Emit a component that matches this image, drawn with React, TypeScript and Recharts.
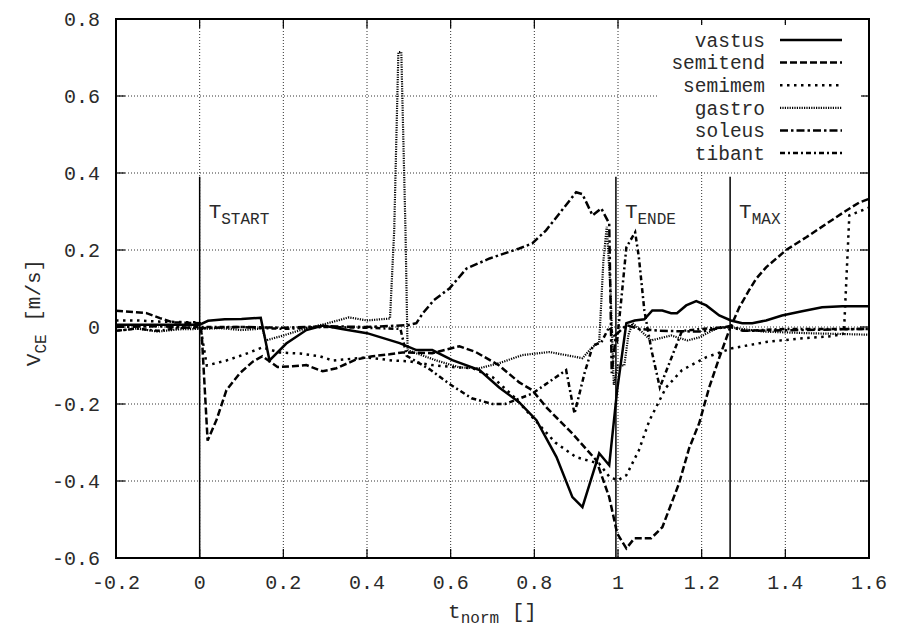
import React from "react";
import {
  CartesianGrid,
  Legend,
  Line,
  LineChart,
  ReferenceArea,
  ReferenceDot,
  ReferenceLine,
  XAxis,
  YAxis
} from "recharts";

const xTicks = [-0.2, 0, 0.2, 0.4, 0.6, 0.8, 1, 1.2, 1.4, 1.6];
const yTicks = [-0.6, -0.4, -0.2, 0, 0.2, 0.4, 0.6, 0.8];

// [t_norm, v_CE]
const vastus: [number, number][] = [
  [-0.2, 0.006], [0, 0.006], [0.02, 0.016], [0.06, 0.02], [0.1, 0.021], [0.146, 0.024],
  [0.167, -0.087], [0.207, -0.043], [0.255, -0.008], [0.295, 0.004], [0.34, -0.005],
  [0.4, -0.016], [0.478, -0.042], [0.518, -0.06], [0.556, -0.06], [0.604, -0.086],
  [0.669, -0.112], [0.716, -0.157], [0.764, -0.196], [0.805, -0.242], [0.853, -0.338],
  [0.891, -0.442], [0.915, -0.468], [0.955, -0.328], [0.979, -0.359], [0.998, -0.164],
  [1.02, 0.01], [1.04, 0.017], [1.063, 0.02], [1.082, 0.043], [1.106, 0.043], [1.127, 0.036],
  [1.141, 0.036], [1.163, 0.056], [1.187, 0.067], [1.211, 0.056], [1.242, 0.03], [1.27, 0.017],
  [1.297, 0.01], [1.321, 0.01], [1.354, 0.017], [1.392, 0.03], [1.44, 0.041], [1.488, 0.051],
  [1.536, 0.054], [1.6, 0.054]
];

const semitend: [number, number][] = [
  [-0.2, 0.042], [-0.127, 0.036], [-0.095, 0.023], [-0.064, 0.012], [0, 0.01], [0.005, -0.02],
  [0.019, -0.295], [0.04, -0.242], [0.064, -0.164], [0.096, -0.12], [0.127, -0.09],
  [0.15, -0.076], [0.186, -0.104], [0.222, -0.102], [0.255, -0.099], [0.294, -0.115],
  [0.327, -0.107], [0.375, -0.084], [0.413, -0.076], [0.454, -0.071], [0.485, -0.066],
  [0.556, -0.068], [0.621, -0.05], [0.66, -0.065], [0.716, -0.1], [0.764, -0.144],
  [0.795, -0.164], [0.83, -0.21], [0.891, -0.277], [0.948, -0.346], [0.979, -0.442],
  [0.998, -0.536], [1.02, -0.575], [1.039, -0.549], [1.079, -0.549], [1.106, -0.52],
  [1.146, -0.406], [1.17, -0.315], [1.194, -0.25], [1.218, -0.157], [1.242, -0.08],
  [1.266, -0.008], [1.29, 0.051], [1.313, 0.095], [1.33, 0.125], [1.354, 0.155], [1.402, 0.2],
  [1.45, 0.233], [1.498, 0.268], [1.545, 0.302], [1.576, 0.323], [1.6, 0.333]
];

const semimem: [number, number][] = [
  [-0.2, 0.017], [-0.15, 0.017], [-0.1, 0.014], [0, 0.012], [0.017, -0.1], [0.064, -0.087],
  [0.11, -0.07], [0.15, -0.053], [0.19, -0.066], [0.24, -0.069], [0.287, -0.076],
  [0.318, -0.087], [0.399, -0.079], [0.461, -0.087], [0.5, -0.089], [0.556, -0.099],
  [0.604, -0.104], [0.652, -0.107], [0.7, -0.13], [0.75, -0.18], [0.8, -0.24], [0.85, -0.3],
  [0.9, -0.338], [0.955, -0.355], [0.98, -0.39], [1.0, -0.398], [1.02, -0.385], [1.05, -0.32],
  [1.075, -0.243], [1.115, -0.157], [1.153, -0.112], [1.21, -0.079], [1.273, -0.055],
  [1.354, -0.039], [1.433, -0.03], [1.512, -0.024], [1.54, -0.017], [1.553, 0.29], [1.6, 0.31]
];

const gastro: [number, number][] = [
  [-0.2, -0.01], [-0.15, -0.004], [-0.1, -0.012], [-0.05, -0.006], [0, -0.005], [0.05, -0.003],
  [0.1, -0.008], [0.15, -0.004], [0.158, -0.035], [0.2, -0.022], [0.25, -0.005], [0.3, 0.008],
  [0.357, 0.025], [0.4, 0.017], [0.455, 0.022], [0.465, 0.25], [0.475, 0.714], [0.482, 0.714],
  [0.492, 0.25], [0.497, -0.06], [0.566, -0.087], [0.621, -0.105], [0.669, -0.107],
  [0.716, -0.094], [0.771, -0.073], [0.836, -0.065], [0.915, -0.081], [0.939, -0.052],
  [0.955, -0.04], [0.965, 0.17], [0.973, 0.26], [0.982, 0.1], [0.99, -0.15], [1.0, -0.1],
  [1.015, -0.1], [1.025, -0.02], [1.035, 0.01], [1.079, -0.035], [1.127, -0.022],
  [1.166, -0.035], [1.194, -0.027], [1.242, 0.0], [1.273, -0.002], [1.35, -0.012],
  [1.45, -0.016], [1.6, -0.02]
];

const soleus: [number, number][] = [
  [-0.2, 0.0], [-0.1, 0.002], [0, -0.003], [0.1, 0.0], [0.2, -0.002], [0.3, 0.002], [0.4, 0.0],
  [0.5, 0.005], [0.518, 0.01], [0.533, 0.035], [0.56, 0.07], [0.597, 0.1], [0.638, 0.152],
  [0.693, 0.178], [0.764, 0.204], [0.795, 0.217], [0.828, 0.251], [0.86, 0.295], [0.9, 0.35],
  [0.915, 0.345], [0.939, 0.29], [0.96, 0.308], [0.979, 0.269], [0.985, -0.12], [0.995, -0.02],
  [1.02, 0.005], [1.05, -0.005], [1.1, -0.01], [1.2, -0.012], [1.27, 0.003], [1.3, -0.01],
  [1.6, -0.005]
];

const tibant: [number, number][] = [
  [-0.2, -0.01], [-0.15, -0.004], [-0.1, -0.01], [-0.05, -0.003], [0, 0.0], [0.1, 0.0],
  [0.2, -0.005], [0.3, 0.0], [0.4, -0.002], [0.48, -0.005], [0.495, -0.075], [0.55, -0.11],
  [0.6, -0.15], [0.65, -0.185], [0.7, -0.2], [0.73, -0.2], [0.795, -0.173], [0.876, -0.112],
  [0.896, -0.225], [0.92, -0.12], [0.94, -0.048], [0.96, -0.04], [0.979, 0.0], [0.998, -0.035],
  [1.01, 0.095], [1.02, 0.207], [1.041, 0.246], [1.05, 0.18], [1.063, 0.043], [1.08, -0.06],
  [1.1, -0.157], [1.153, -0.01], [1.2, -0.005], [1.27, 0.0], [1.3, -0.01], [1.4, -0.005],
  [1.6, -0.005]
];

const phases = [
  { sub: "START", t: 0 },
  { sub: "ENDE", t: 0.995 },
  { sub: "MAX", t: 1.268 }
];
const phaseTop = 0.39;

const series = [
  { name: "vastus", points: vastus, dash: undefined as string | undefined, width: 2.5 },
  { name: "semitend", points: semitend, dash: "7 3", width: 2.5 },
  { name: "semimem", points: semimem, dash: "2.5 4.5", width: 2.5 },
  { name: "gastro", points: gastro, dash: "1.2 1.2", width: 2.2 },
  { name: "soleus", points: soleus, dash: "8 3 2.5 3", width: 2.5 },
  { name: "tibant", points: tibant, dash: "5 3 2 3", width: 2.5 }
];

const W = 902;
const H = 630;
const MARGIN = { top: 19, right: 33, bottom: 20, left: 0 };
const YAXIS_W = 116;
const XAXIS_H = 52;
const TICK_IN = 9;
const X_GAP = 17;
const Y_GAP = 16;
const FONT = '"Liberation Mono", "DejaVu Sans Mono", monospace';
const INK = "#2a2a2a";

const fmt = (v: number) => (v === 0 ? "0" : String(v));

function XTick(props: any) {
  const { x, y, payload } = props;
  const axisY = y - X_GAP;
  return (
    <g>
      <line x1={x} x2={x} y1={axisY} y2={axisY - TICK_IN} stroke="#000" strokeWidth={1.2} />
      <line x1={x} x2={x} y1={MARGIN.top} y2={MARGIN.top + TICK_IN} stroke="#000" strokeWidth={1.2} />
      <text x={x} y={y} dy="0.71em" textAnchor="middle" fontFamily={FONT} fontSize={20} fill={INK}>
        {fmt(payload.value)}
      </text>
    </g>
  );
}

function YTick(props: any) {
  const { x, y, payload } = props;
  const axisX = x + Y_GAP;
  const right = W - MARGIN.right;
  return (
    <g>
      <line x1={axisX} x2={axisX + TICK_IN} y1={y} y2={y} stroke="#000" strokeWidth={1.2} />
      <line x1={right - TICK_IN} x2={right} y1={y} y2={y} stroke="#000" strokeWidth={1.2} />
      <text x={x} y={y} dy="0.35em" textAnchor="end" fontFamily={FONT} fontSize={20} fill={INK}>
        {fmt(payload.value)}
      </text>
    </g>
  );
}

function YLabel(props: any) {
  const vb = props.viewBox || {};
  const cx = vb.x + 40;
  const cy = vb.y + vb.height / 2 + 24;
  return (
    <text
      x={cx}
      y={cy}
      transform={`rotate(-90, ${cx}, ${cy})`}
      textAnchor="middle"
      fontFamily={FONT}
      fontSize={21}
      fill={INK}
    >
      <tspan>V</tspan>
      <tspan dy={6} fontSize={16}>CE</tspan>
      <tspan dy={-6}> [m/s]</tspan>
    </text>
  );
}

function XLabel(props: any) {
  const vb = props.viewBox || {};
  const cx = vb.x + vb.width / 2;
  const cy = vb.y + 60;
  return (
    <text x={cx} y={cy} textAnchor="middle" fontFamily={FONT} fontSize={21} fill={INK}>
      <tspan>t</tspan>
      <tspan dy={5} fontSize={16}>norm</tspan>
      <tspan dy={-5}> []</tspan>
    </text>
  );
}

function PhaseLabel(props: any) {
  const vb = props.viewBox || {};
  const x = vb.x + (vb.width || 0) / 2 + 9;
  const y = vb.y + (vb.height || 0) / 2 + 41;
  return (
    <text x={x} y={y} fontFamily={FONT} fontSize={21} fill={INK}>
      <tspan>T</tspan>
      <tspan dy={6} fontSize={16}>{props.sub}</tspan>
    </text>
  );
}

const LEGEND_ROW = 22.6;

function LegendBox() {
  return (
    <svg width={204} height={146} style={{ display: "block", background: "#fff" }}>
      {series.map((s, i) => {
        const cy = 15 + i * LEGEND_ROW;
        return (
          <g key={s.name}>
            <text x={108} y={cy} dy="0.35em" textAnchor="end" fontFamily={FONT} fontSize={19.5} fill={INK}>
              {s.name}
            </text>
            <line
              x1={123}
              x2={185}
              y1={cy}
              y2={cy}
              stroke="#000"
              strokeWidth={s.width}
              strokeDasharray={s.dash}
            />
          </g>
        );
      })}
    </svg>
  );
}

export default function App() {
  return (
    <div style={{ position: "absolute", left: 0, top: 0, width: W, height: H, background: "#fff" }}>
      <LineChart width={W} height={H} margin={MARGIN}>
        <CartesianGrid stroke="#333" strokeDasharray="1 2" strokeWidth={1} />
        <XAxis
          type="number"
          dataKey="t"
          domain={[-0.2, 1.6]}
          ticks={xTicks}
          interval={0}
          allowDataOverflow
          height={XAXIS_H}
          tickSize={0}
          tickMargin={X_GAP}
          axisLine={false}
          tick={<XTick />}
          label={<XLabel />}
        />
        <YAxis
          type="number"
          domain={[-0.6, 0.8]}
          ticks={yTicks}
          interval={0}
          allowDataOverflow
          width={YAXIS_W}
          tickSize={0}
          tickMargin={Y_GAP}
          axisLine={false}
          tick={<YTick />}
          label={<YLabel />}
        />
        <ReferenceArea
          x1={-0.2}
          x2={1.6}
          y1={-0.6}
          y2={0.8}
          fill="none"
          stroke="#000"
          strokeWidth={2}
          fillOpacity={0}
        />
        {phases.map((p) => (
          <ReferenceLine
            key={p.sub}
            segment={[{ x: p.t, y: phaseTop }, { x: p.t, y: -0.6 }]}
            stroke="#000"
            strokeWidth={1.5}
          />
        ))}
        {phases.map((p) => (
          <ReferenceDot
            key={`l-${p.sub}`}
            x={p.t}
            y={phaseTop}
            r={0}
            fill="none"
            stroke="none"
            label={<PhaseLabel sub={p.sub} />}
          />
        ))}
        {series.map((s) => (
          <Line
            key={s.name}
            name={s.name}
            data={s.points.map(([t, v]) => ({ t, v }))}
            dataKey="v"
            type="linear"
            stroke="#000"
            strokeWidth={s.width}
            strokeDasharray={s.dash}
            dot={false}
            activeDot={false}
            isAnimationActive={false}
          />
        ))}
        <Legend
          layout="vertical"
          align="center"
          verticalAlign="middle"
          width={204}
          height={146}
          wrapperStyle={{ left: 657, top: 25, width: 204, height: 146, overflow: "hidden" }}
          content={() => <LegendBox />}
        />
      </LineChart>
    </div>
  );
}
